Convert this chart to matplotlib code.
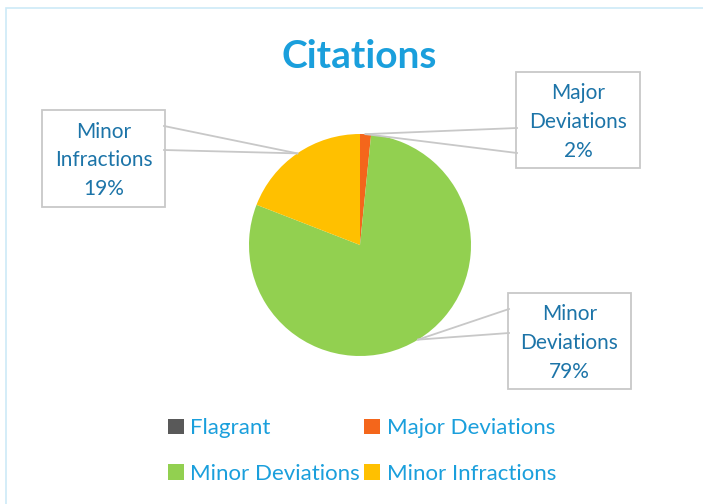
import numpy as np
import matplotlib
matplotlib.use("Agg")
import matplotlib.pyplot as plt
from matplotlib.patches import Rectangle, Patch
from matplotlib.lines import Line2D

categories = ["Flagrant", "Major Deviations", "Minor Deviations", "Minor Infractions"]
values = [0, 1.6, 79.3, 19.1]
colors = ["#595959", "#f4661b", "#92d050", "#ffc000"]

W, H = 703, 504
plt.rcParams["font.family"] = ["Lato", "DejaVu Sans"]

fig = plt.figure(figsize=(W / 100, H / 100), dpi=100)

def fx(x):
    return x / W

def fy(y):
    return 1 - y / H

# light blue chart frame
fig.patches.append(Rectangle((fx(6), fy(H + 10)), fx(W), fy(8) - fy(H + 10),
                             transform=fig.transFigure, fill=False,
                             edgecolor="#cdeaf7", linewidth=1.2))

# pie axes: centre (360, 245), radius 111 px
cx, cy, r = 360, 245, 111
ax = fig.add_axes([fx(cx - r), fy(cy + r), 2 * r / W, 2 * r / H])
wedges, _ = ax.pie(values, colors=colors, startangle=90, counterclock=False,
                   radius=1, wedgeprops=dict(linewidth=0))
ax.set_xlim(-1, 1)
ax.set_ylim(-1, 1)
ax.set_aspect("auto")
ax.axis("off")

fig.text(fx(359), fy(56), "Citations", ha="center", va="center",
         fontsize=28, fontweight="bold", color="#1a9fdc")

total = sum(values)
# label boxes (left, top, right, bottom) and where the callout meets the box
boxes = {
    "Major Deviations": ((516, 72, 640, 168), [(517, 128), (517, 153)]),
    "Minor Deviations": ((508, 293, 631, 389), [(509, 309), (509, 333)]),
    "Minor Infractions": ((42, 110, 165, 207), [(164, 126), (164, 150)]),
}
label_color = "#1c74a8"
for w, name, v in zip(wedges, categories, values):
    if name not in boxes:
        continue
    (l, t, rr, b), base = boxes[name]
    mid = np.deg2rad((w.theta1 + w.theta2) / 2)
    tip_px = ax.transData.transform((np.cos(mid), np.sin(mid)))
    tip = fig.transFigure.inverted().transform(tip_px)
    for bx, by in base:
        fig.add_artist(Line2D([fx(bx), tip[0]], [fy(by), tip[1]],
                              transform=fig.transFigure, color="#c8c8c8", lw=1.3))
    fig.patches.append(Rectangle((fx(l), fy(b)), fx(rr) - fx(l), fy(t) - fy(b),
                                 transform=fig.transFigure, facecolor="white",
                                 edgecolor="#c8c8c8", linewidth=1.3))
    words = name.split(" ")
    txt = words[0] + "\n" + words[1] + "\n" + f"{round(v / total * 100):.0f}%"
    fig.text(fx((l + rr) / 2), fy((t + b) / 2 + 2), txt, ha="center", va="center",
             fontsize=15, color=label_color, linespacing=1.55)

handles = [Patch(facecolor=c, edgecolor="none") for c in colors]
order = [0, 2, 1, 3]
leg = fig.legend([handles[i] for i in order], [categories[i] for i in order],
                 ncol=2, loc="center", bbox_to_anchor=(fx(362), fy(451)),
                 frameon=False, fontsize=16, handlelength=0.7, handleheight=0.7,
                 handletextpad=0.3, columnspacing=0.2, labelspacing=1.15)
for t in leg.get_texts():
    t.set_color("#1a9fdc")

fig.savefig("out.png", dpi=100)
